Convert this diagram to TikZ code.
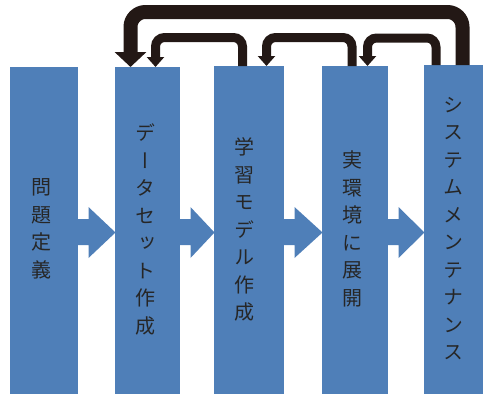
\documentclass[tikz,border=0pt]{standalone}
\usepackage{fontspec}
\newfontfamily\cjk[RawFeature=+vert]{Noto Sans CJK JP}
\usetikzlibrary{arrows.meta,calc}
\definecolor{boxblue}{HTML}{4F7FB8}
\definecolor{inkc}{HTML}{231815}
\definecolor{txtc}{HTML}{262626}
\newcommand\blkarrow[2]{%
  \fill[blk] let \p1=(#1.east), \p2=(#2.west), \n1={\x1+10.5pt} in
    (\x1-0.5pt,-219pt) -- (\n1,-219pt) -- (\n1,-207pt) -- (\x2+0.5pt,-232.5pt)
    -- (\n1,-258pt) -- (\n1,-245pt) -- (\x1-0.5pt,-245pt) -- cycle;}
\begin{document}
\begin{tikzpicture}[x=1pt,y=-1pt,
  box/.style={fill=boxblue, draw=none, inner sep=0pt, outer sep=0pt, anchor=north west},
  lbl/.style={text=txtc, align=center, font=\cjk\fontsize{20}{27.5}\selectfont, inner sep=0pt},
  fbbig/.style={draw=inkc, line width=14pt, rounded corners=15pt, -{Triangle[width=31pt,length=15pt]}},
  fbsmall/.style={draw=inkc, line width=9pt, rounded corners=9pt, -{Triangle[width=17pt,length=10pt]}},
  blk/.style={fill=boxblue}]
\useasboundingbox (0,0) rectangle (483,394);
\node[box, minimum width=68pt, minimum height=327pt] (b1) at (10,67) {};
\node[box, minimum width=65pt, minimum height=327pt] (b2) at (115,67) {};
\node[box, minimum width=70pt, minimum height=328pt] (b3) at (214,66) {};
\node[box, minimum width=66pt, minimum height=328pt] (b4) at (322,66) {};
\node[box, minimum width=59pt, minimum height=329pt] (b5) at (424,65) {};
\blkarrow{b1}{b2}
\blkarrow{b2}{b3}
\blkarrow{b3}{b4}
\blkarrow{b4}{b5}
\draw[fbbig] (462.5,0 |- b5.north) -- (462.5,12) -- (130.5,12) -- (130.5,0 |- b2.north);
\draw[fbsmall] (242.5,0 |- b3.north) -- (242.5,37.5) -- (155.5,37.5) -- (155.5,0 |- b2.north);
\draw[fbsmall] (352,0 |- b4.north) -- (352,37.5) -- (266.5,37.5) -- (266.5,0 |- b3.north);
\draw[fbsmall] (436,0 |- b5.north) -- (436,38) -- (367.5,38) -- (367.5,0 |- b4.north);
\node[lbl] (t1) at (41,229) {問\\題\\定\\義};
\node[lbl] (t2) at (145,229.5) {デ\\ー\\タ\\セ\\ッ\\ト\\作\\成};
\node[lbl] (t3) at (244,229.5) {学\\習\\モ\\デ\\ル\\作\\成};
\node[lbl] (t4) at (352,229) {実\\環\\境\\に\\展\\開};
\node[lbl] (t5) at (453,228.5) {シ\\ス\\テ\\ム\\メ\\ン\\テ\\ナ\\ン\\ス};
\end{tikzpicture}
\end{document}
